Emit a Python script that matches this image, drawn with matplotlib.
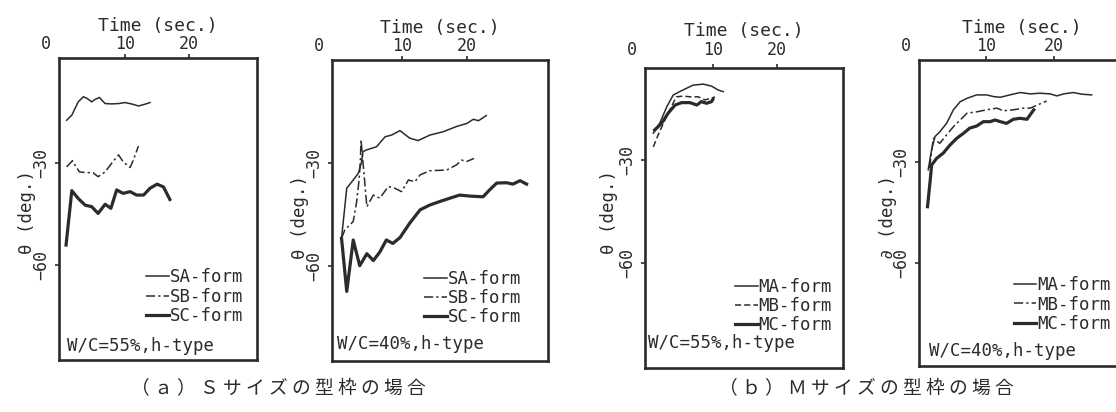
#!/usr/bin/env python3
"""Form-angle time histories, S and M size forms (W/C = 55 % and 40 %)."""

import matplotlib
matplotlib.use("Agg")
import matplotlib.pyplot as plt

plt.rcParams["font.family"] = ["DejaVu Sans Mono", "Noto Sans CJK JP"]

INK = "#2b2b2b"

# ---- data (time in sec., theta in deg.) ----
SA_55_t = [0.9, 1.7, 2.7, 3.5, 4.1, 4.8, 5.3, 6.0, 6.9, 7.9, 9.0, 10.0, 11.0, 12.1, 13.1, 13.9]
SA_55 = [-17.4, -15.9, -12.0, -10.5, -11.0, -12.0, -11.3, -10.7, -12.5, -12.6, -12.5, -12.2,
         -12.6, -13.2, -12.7, -12.2]
SB_55_t = [0.9, 1.8, 2.3, 2.9, 3.9, 5.0, 5.8, 6.9, 7.9, 9.0, 9.7, 10.8, 11.3, 12.1]
SB_55 = [-31.1, -29.3, -30.9, -32.6, -32.8, -32.8, -34.0, -32.6, -30.1, -27.6, -29.6, -31.3,
         -29.1, -25.0]
SC_55_t = [0.8, 1.7, 2.7, 3.8, 4.8, 5.8, 6.9, 7.8, 8.7, 9.7, 10.8, 11.8, 12.9, 13.9, 15.0,
           16.0, 17.0]
SC_55 = [-54.1, -38.1, -40.4, -42.4, -42.8, -44.8, -42.1, -43.3, -37.9, -38.9, -38.4, -39.4,
         -39.4, -37.4, -36.2, -37.0, -40.7]

SA_40_t = [0.7, 1.5, 2.5, 3.3, 3.8, 4.0, 4.6, 6.1, 7.4, 8.4, 9.7, 11.2, 12.5, 14.3, 16.4,
           18.4, 20.0, 21.0, 21.8, 23.0]
SA_40 = [-52.0, -37.4, -35.0, -33.0, -29.6, -26.7, -26.2, -25.3, -22.4, -21.9, -20.6, -22.8,
         -23.5, -21.9, -20.9, -19.4, -18.5, -17.3, -17.7, -16.2]
SB_40_t = [0.7, 1.2, 2.5, 3.0, 3.4, 3.6, 3.7, 4.6, 5.6, 6.6, 7.9, 8.9, 9.95, 11.0, 12.0, 12.8,
           14.3, 16.9, 18.4, 19.2, 20.0, 21.1]
SB_40 = [-52.0, -49.6, -47.1, -41.7, -35.0, -29.2, -23.3, -42.8, -39.4, -40.3, -36.9, -37.4,
         -38.4, -35.0, -35.5, -33.5, -32.3, -32.1, -30.6, -29.2, -29.6, -28.7]
SC_40_t = [0.7, 1.5, 2.5, 3.5, 4.6, 5.6, 6.6, 7.6, 8.6, 9.7, 11.2, 12.8, 14.3, 15.8, 17.4,
           18.9, 20.5, 22.5, 23.5, 24.6, 26.1, 27.1, 28.2, 29.2]
SC_40 = [-52.0, -67.5, -52.5, -60.0, -56.5, -58.5, -56.0, -52.5, -53.5, -51.8, -47.6, -43.7,
         -42.3, -41.3, -40.3, -39.4, -39.7, -39.9, -37.9, -35.9, -35.8, -36.2, -35.2, -36.2]

MA_55_t = [0.7, 1.7, 2.8, 3.8, 4.8, 5.9, 6.9, 8.5, 9.8, 10.8, 11.6]
MA_55 = [-22.2, -19.3, -14.5, -11.1, -10.1, -9.1, -8.2, -7.9, -8.5, -9.6, -10.1]
MB_55_t = [0.7, 1.45, 2.5, 3.5, 4.3, 5.4, 6.4, 7.7, 8.75, 9.8, 10.3]
MB_55 = [-26.2, -22.7, -18.4, -14.5, -11.6, -11.4, -11.6, -11.6, -12.5, -12.0, -11.6]
MC_55_t = [0.9, 2.0, 3.0, 4.1, 5.1, 6.4, 7.5, 8.2, 9.0, 9.8, 10.0]
MC_55 = [-21.3, -19.3, -16.4, -14.0, -13.3, -13.3, -14.0, -13.0, -13.5, -13.0, -12.3]

MA_40_t = [1.5, 2.0, 2.5, 3.2, 4.2, 5.2, 6.2, 7.2, 8.6, 10.1, 11.1, 12.1, 13.5, 15.0, 16.5,
           17.9, 19.4, 20.4, 21.4, 22.8, 24.1, 25.5]
MA_40 = [-32.4, -26.5, -22.6, -21.2, -18.7, -14.7, -12.3, -11.3, -10.3, -10.3, -10.8, -11.0,
         -10.3, -9.6, -10.0, -9.8, -10.0, -10.6, -10.0, -9.6, -10.1, -10.3]
MB_40_t = [1.7, 2.25, 3.2, 4.2, 5.2, 6.2, 7.2, 8.6, 10.1, 11.6, 12.5, 14.0, 15.5, 16.5, 17.5, 18.9]
MB_40 = [-31.9, -23.1, -24.6, -22.1, -19.7, -17.7, -15.7, -15.3, -14.7, -14.2, -15.0, -14.7,
         -14.2, -14.2, -13.3, -12.1]
MC_40_t = [1.4, 1.8, 2.0, 2.75, 3.7, 4.7, 5.7, 6.7, 7.6, 8.6, 9.6, 10.6, 11.3, 12.1, 13.0,
           14.0, 15.0, 16.0, 17.0]
MC_40 = [-43.3, -35.4, -31.0, -29.0, -27.5, -25.1, -23.1, -21.6, -20.1, -19.5, -18.2, -18.2,
         -17.7, -18.2, -18.7, -17.5, -17.2, -17.5, -14.7]

S_LABELS = ["SA-form", "SB-form", "SC-form"]
M_LABELS = ["MA-form", "MB-form", "MC-form"]
X_TICKS = [10, 20]
Y_TICKS = [-30, -60]
CONDITIONS = ["W/C=55%,h-type", "W/C=40%,h-type", "W/C=55%,h-type", "W/C=40%,h-type"]
CAPTIONS = ["（ ａ ） Ｓ サ イ ズ の 型 枠 の 場 合", "（ ｂ ） Ｍ サ イ ズ の 型 枠 の 場 合"]

THIN = dict(color=INK, lw=1.1)
DASHDOT = dict(color=INK, lw=1.1, ls=(0, (6, 2, 1.5, 2)))
DASHED = dict(color=INK, lw=1.1, ls=(0, (4, 2)))
THICK = dict(color=INK, lw=2.3)

W, H = 1116, 412
TICK_LEN, TICK_PAD = 3.0, 0.8


def px_axes(fig, left, top, right, bottom):
    return fig.add_axes([left / W, 1 - bottom / H, (right - left) / W, (bottom - top) / H])


def style_panel(ax, xlim, ylim, cond, cond_xy, leg_anchor, ylab_xy,
                ylabel="θ (deg.)", top_pad=0.0):
    ax.set_xlim(*xlim)
    ax.set_ylim(*ylim)
    for s in ax.spines.values():
        s.set_linewidth(1.9)
        s.set_color(INK)
    ax.xaxis.tick_top()
    ax.xaxis.set_label_position("top")
    ax.set_xticks(X_TICKS)
    ax.set_yticks(Y_TICKS)
    ax.tick_params(axis="both", direction="out", length=TICK_LEN, width=1.2, color=INK,
                   labelsize=12, labelcolor=INK)
    ax.tick_params(axis="x", pad=TICK_PAD + top_pad)
    ax.tick_params(axis="y", pad=3)
    for lab in ax.get_yticklabels():
        lab.set_rotation(90)
        lab.set_va("center")
    ax.set_xlabel("Time (sec.)", fontsize=13, color=INK, labelpad=3)
    ax.set_ylabel(ylabel, fontsize=12.5, color=INK)
    ax.yaxis.set_label_coords(*ylab_xy)
    # the "0" label sits left of the frame corner in the original
    ax.annotate("0", xy=(0, 1), xycoords="axes fraction",
                xytext=(-9.5, TICK_LEN + TICK_PAD + top_pad),
                textcoords="offset points", ha="center", va="bottom",
                fontsize=12, color=INK)
    ax.text(cond_xy[0], cond_xy[1], cond, transform=ax.transAxes, fontsize=12.5,
            color=INK, va="center", ha="left")
    ax.legend(loc="lower right", bbox_to_anchor=leg_anchor, frameon=False,
              fontsize=12.5, handlelength=1.3, handletextpad=0.05, labelspacing=0.08,
              borderpad=0, borderaxespad=0, labelcolor=INK)


fig = plt.figure(figsize=(W / 100, H / 100), dpi=100)

ax1 = px_axes(fig, 59, 58, 257, 360)
ax1.plot(SA_55_t, SA_55, label=S_LABELS[0], **THIN)
ax1.plot(SB_55_t, SB_55, label=S_LABELS[1], **DASHDOT)
ax1.plot(SC_55_t, SC_55, label=S_LABELS[2], **THICK)
style_panel(ax1, (-0.3, 30.6), (-87.9, 0.9), CONDITIONS[0], (0.04, 0.045), (0.93, 0.115),
            (-0.118, 0.49))

ax2 = px_axes(fig, 332, 60, 548, 361)
ax2.plot(SA_40_t, SA_40, label=S_LABELS[0], **THIN)
ax2.plot(SB_40_t, SB_40, label=S_LABELS[1], **DASHDOT)
ax2.plot(SC_40_t, SC_40, label=S_LABELS[2], **THICK)
style_panel(ax2, (-0.77, 32.5), (-87.8, 0.0), CONDITIONS[1], (0.025, 0.058), (0.875, 0.115),
            (-0.108, 0.478))

ax3 = px_axes(fig, 645, 68, 843, 368)
ax3.plot(MA_55_t, MA_55, label=M_LABELS[0], **THIN)
ax3.plot(MB_55_t, MB_55, label=M_LABELS[1], **DASHED)
ax3.plot(MC_55_t, MC_55, label=M_LABELS[2], **THICK)
style_panel(ax3, (-0.6, 30.3), (-90.7, -3.2), CONDITIONS[2], (0.015, 0.083), (0.945, 0.112),
            (-0.138, 0.52), top_pad=3.0)

ax4 = px_axes(fig, 919, 60, 1125, 366)
ax4.plot(MA_40_t, MA_40, label=M_LABELS[0], **THIN)
ax4.plot(MB_40_t, MB_40, label=M_LABELS[1], **DASHDOT)
ax4.plot(MC_40_t, MC_40, label=M_LABELS[2], **THICK)
style_panel(ax4, (0.15, 30.4), (-90.3, 0.0), CONDITIONS[3], (0.05, 0.05), (0.93, 0.108),
            (-0.108, 0.487), ylabel="∂ (deg.)")

fig.text(278 / W, 1 - 389 / H, CAPTIONS[0], fontsize=13.5, color=INK, ha="center",
         va="center", family="Noto Sans CJK JP")
fig.text(866 / W, 1 - 389 / H, CAPTIONS[1], fontsize=13.5, color=INK, ha="center",
         va="center", family="Noto Sans CJK JP")

fig.savefig("out.png", dpi=100, facecolor="white")
